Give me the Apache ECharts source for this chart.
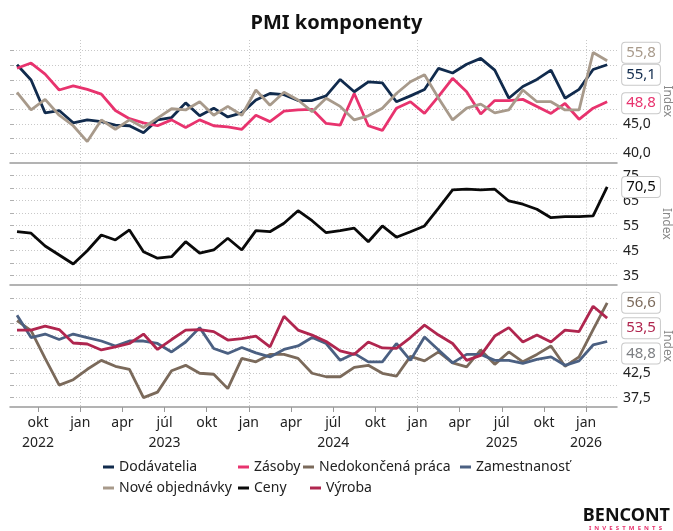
<!DOCTYPE html>
<html><head><meta charset="utf-8">
<script src="https://cdn.jsdelivr.net/npm/echarts@6/dist/echarts.min.js"></script>
<style>html,body{margin:0;padding:0;background:#fff}#c{width:673px;height:531px}</style>
</head><body><div id="c"></div>
<script>
// ---- categories (monthly, Aug 2022 – Feb 2026)
const months = ['2022-08','2022-09','2022-10','2022-11','2022-12',
  '2023-01','2023-02','2023-03','2023-04','2023-05','2023-06','2023-07','2023-08','2023-09','2023-10','2023-11','2023-12',
  '2024-01','2024-02','2024-03','2024-04','2024-05','2024-06','2024-07','2024-08','2024-09','2024-10','2024-11','2024-12',
  '2025-01','2025-02','2025-03','2025-04','2025-05','2025-06','2025-07','2025-08','2025-09','2025-10','2025-11','2025-12',
  '2026-01','2026-02'];

// ---- series values
const dodavatelia = [55.1,52.5,46.9,47.3,45.2,45.7,45.4,44.8,44.7,43.5,45.7,46.1,48.6,46.4,47.7,46.2,46.9,49.1,50.2,50.0,49.0,49.0,49.8,52.6,50.5,52.2,52.0,48.8,49.8,50.9,54.5,53.7,55.2,56.2,54.2,49.4,51.4,52.6,54.2,49.4,50.9,54.3,55.1];
const zasoby = [54.5,55.4,53.5,50.8,51.5,50.9,50.1,47.3,45.9,45.2,44.7,45.7,44.4,45.7,44.7,44.5,44.1,46.5,45.4,47.2,47.4,47.5,45.1,44.8,50.2,44.7,43.9,47.7,48.8,46.8,49.7,52.8,50.5,46.7,49.0,49.0,49.2,48.0,46.8,48.5,45.8,47.7,48.8];
const noveObjednavky = [50.4,47.4,49.2,46.5,44.7,42.0,45.7,44.1,45.7,44.4,46.0,47.6,47.4,48.8,46.5,48.0,46.5,50.8,48.2,50.4,49.1,47.1,49.4,48.0,45.7,46.4,47.7,50.2,52.2,53.4,49.4,45.7,47.7,48.4,46.9,47.4,50.8,48.8,48.8,47.4,47.4,57.2,55.8];
const ceny = [52.6,52.0,46.9,43.3,39.7,45.0,51.3,49.3,53.3,44.6,42.0,42.6,48.6,44.0,45.3,50.0,45.3,53.0,52.6,56.0,61.0,57.0,52.2,53.0,54.0,48.6,54.9,50.4,52.6,54.9,62.0,69.3,69.6,69.3,69.6,64.9,63.6,61.6,58.2,58.6,58.6,58.9,70.5];
const nedokoncenaPraca = [53.0,51.0,45.4,40.0,41.1,43.2,45.0,43.8,43.2,37.5,38.6,42.9,44.0,42.4,42.2,39.3,45.4,44.7,46.2,46.2,45.4,42.4,41.7,41.7,43.6,44.0,42.4,41.8,45.8,44.9,46.7,44.5,43.7,47.1,44.2,46.7,44.7,46.2,47.9,43.8,45.7,51.2,56.6];
const zamestnanost = [54.1,49.6,50.3,49.2,50.3,49.6,48.9,47.9,48.9,48.9,48.4,46.7,48.7,51.6,47.4,46.4,47.6,46.5,45.7,47.2,47.9,49.6,48.4,45.0,46.4,44.7,44.7,48.4,45.0,49.7,47.1,44.5,46.2,46.2,45.0,45.0,44.4,45.2,45.7,44.0,44.9,48.1,48.8];
const vyroba = [51.1,51.1,51.9,51.2,48.5,48.3,47.1,47.7,48.4,50.3,47.2,49.2,51.1,51.2,50.8,49.1,49.4,49.9,47.7,53.9,51.1,50.1,48.8,46.9,46.2,48.7,47.5,47.4,49.6,52.1,50.1,48.4,45.0,46.0,49.9,51.6,48.7,50.1,48.7,51.1,50.8,55.9,53.5];

// ---- tick labels
const xTickMonths = ['2022-10','2023-01','2023-04','2023-07','2023-10','2024-01','2024-04','2024-07','2024-10','2025-01','2025-04','2025-07','2025-10','2026-01'];
const xTickMonthLabels = ['okt','jan','apr','júl','okt','jan','apr','júl','okt','jan','apr','júl','okt','jan'];
const xTickYearLabels = ['2022','','','2023','','','','2024','','','','2025','','2026'];
const xYearGridMonths = ['2023-01','2024-01','2025-01','2026-01'];
const yTopGrid = [40,42.5,45,47.5,50,52.5,55,57.5];
const yTopLabels = [40,45];
const yMidGrid = [35,40,45,50,55,60,65,70,75];
const yMidLabels = [35,45,55,65,75];
const yBotGrid = [37.5,40,42.5,45,47.5,50,52.5,55,57.5];
const yBotLabels = [37.5,42.5];

const FF = '"Noto Sans", sans-serif';
const fmt1 = v => v.toFixed(1).replace('.', ',');

const tickPos = xTickMonths.map(m => months.indexOf(m));
const yearPos = xYearGridMonths.map(m => months.indexOf(m));
const xMax = months.length + 0.2;

const gridDefs = [
  {top: 40, height: 122.5},
  {top: 162.5, height: 122.5},
  {top: 285, height: 122}
];
const grids = gridDefs.map(g => ({left: 10, right: 56, top: g.top, height: g.height, containLabel: false, outerBoundsMode: 'none'}));

const xAxes = [];
gridDefs.forEach((g, gi) => {
  const last = gi === 2;
  xAxes.push({
    type: 'value', gridIndex: gi, min: 0, max: xMax, position: 'bottom',
    axisLine: {show: true, onZero: false, lineStyle: {color: '#9a9a9a', width: 1.5}},
    axisTick: {show: last, customValues: tickPos, length: 5, lineStyle: {color: '#9a9a9a'}},
    axisLabel: {show: last, customValues: tickPos, margin: 6, fontFamily: FF, fontSize: 14, color: '#222', lineHeight: 20,
      formatter: v => { const k = tickPos.indexOf(Math.round(v)); if (k < 0) return ''; return xTickMonthLabels[k] + '\n' + xTickYearLabels[k]; }},
    splitLine: {show: false}
  });
  xAxes.push({
    type: 'value', gridIndex: gi, min: 0, max: xMax, position: 'top',
    axisLine: {show: false}, axisLabel: {show: false},
    axisTick: {show: false, customValues: yearPos},
    splitLine: {show: true, lineStyle: {color: '#c8c8c8', type: [1, 2], width: 1}}
  });
});

function yAxis(gi, min, max, gridVals, labelVals, fmt) {
  return {
    type: 'value', gridIndex: gi, position: 'right', min, max,
    name: 'Index', nameLocation: 'middle', nameRotate: -90, nameGap: 43,
    nameTextStyle: {fontFamily: FF, fontSize: 12, color: '#888'},
    axisLine: {show: false},
    axisTick: {show: true, customValues: gridVals, length: 4, lineStyle: {color: '#b0b0b0'}},
    axisLabel: {customValues: labelVals, margin: 6, fontFamily: FF, fontSize: 14, color: '#222', formatter: fmt},
    splitLine: {show: true, lineStyle: {color: '#c8c8c8', type: [1, 2], width: 1}}
  };
}
const yAxes = [
  yAxis(0, 38.43, 59.33, yTopGrid, yTopLabels, fmt1),
  yAxis(1, 31.28, 80.28, yMidGrid, yMidLabels, v => String(v)),
  yAxis(2, 35.6, 60.19, yBotGrid, yBotLabels, fmt1)
];

function line(name, vals, color, gi, labelColor, dy) {
  return {
    name, type: 'line', xAxisIndex: gi * 2, yAxisIndex: gi,
    data: vals.map((v, i) => [i + 0.5, v]),
    symbol: 'none', lineStyle: {width: 2.8, color}, itemStyle: {color},
    endLabel: {show: true, formatter: p => fmt1(p.value[1]), color: labelColor, fontFamily: FF, fontSize: 15,
      backgroundColor: '#fff', borderColor: '#c9c9c9', borderWidth: 1, borderRadius: 3, padding: [3, 4, 2, 4],
      distance: 15, offset: [0, dy]},
    animation: false
  };
}

const C = {dod: '#112b4d', zas: '#e8336e', ned: '#7b6a5b', zam: '#4b6082', nov: '#a89a8b', cen: '#0a0a0a', vyr: '#b0264f'};

const series = [
  line('Dodávatelia', dodavatelia, C.dod, 0, C.dod, 10),
  line('Zásoby', zasoby, C.zas, 0, C.zas, 1.5),
  line('Nedokončená práca', nedokoncenaPraca, C.ned, 2, C.ned, 0),
  line('Zamestnanosť', zamestnanost, C.zam, 2, '#7d7f83', 12),
  line('Nové objednávky', noveObjednavky, C.nov, 0, C.nov, -8),
  line('Ceny', ceny, C.cen, 1, C.cen, 0),
  line('Výroba', vyroba, C.vyr, 2, C.vyr, 10)
];

// legend items: [name, left, top]
const legendItems = [
  ['Dodávatelia', 103, 460], ['Zásoby', 238, 460], ['Nedokončená práca', 303, 460], ['Zamestnanosť', 460, 460],
  ['Nové objednávky', 103, 481], ['Ceny', 238, 481], ['Výroba', 310, 481]
];
const legends = legendItems.map(([n, l, t]) => ({
  data: [n], left: l, top: t, itemWidth: 11, itemHeight: 3, icon: 'rect', padding: 0,
  textStyle: {fontFamily: FF, fontSize: 14, color: '#222'}
}));

const chart = echarts.init(document.getElementById('c'), null, {renderer: 'canvas'});
chart.setOption({
  animation: false,
  backgroundColor: '#fff',
  title: {text: 'PMI komponenty', left: 'center', top: 8,
    textStyle: {fontFamily: FF, fontSize: 20, fontWeight: 'bold', color: '#111'}},
  grid: grids,
  xAxis: xAxes,
  yAxis: yAxes,
  legend: legends,
  series,
  graphic: [
    {type: 'text', right: 3, top: 507, style: {text: 'BENCONT', font: 'bold 18px "Noto Sans"', fill: '#111'}},
    {type: 'text', right: 11, top: 525, style: {text: 'I  N  V  E  S  T  M  E  N  T  S', font: 'bold 6px "Noto Sans"', fill: '#e8336e'}}
  ]
});
</script></body></html>
